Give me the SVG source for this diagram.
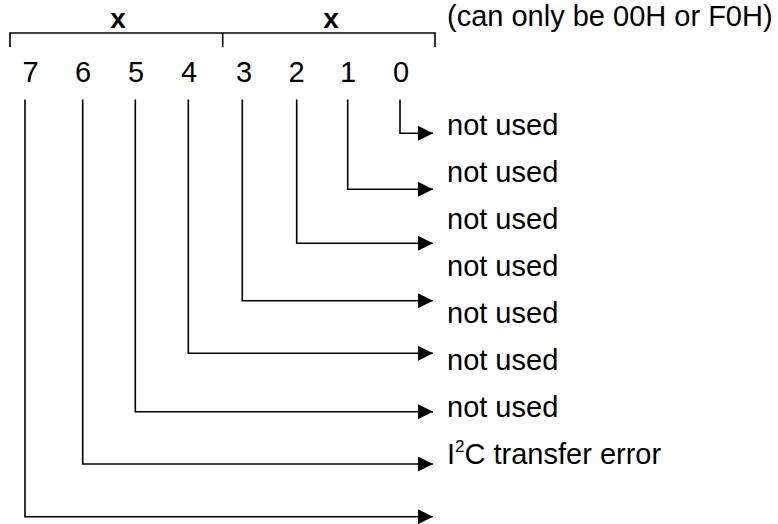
<svg xmlns="http://www.w3.org/2000/svg" width="778" height="524" viewBox="0 0 778 524">
<style>
  .t { font-family: "Liberation Sans", Arial, sans-serif; font-size: 29px; fill: #000; }
  .b { font-family: "Liberation Sans", Arial, sans-serif; font-size: 28px; font-weight: bold; fill: #000; }
  .ln { fill: none; stroke: #000; stroke-width: 1.6; }
  .ar { fill: none; stroke: #000; stroke-width: 1.6; marker-end: url(#arrow); }
</style>
<defs>
  <marker id="arrow" markerUnits="userSpaceOnUse" markerWidth="16" markerHeight="16" refX="15" refY="7.5" orient="auto">
    <path d="M0,0 L15,7.5 L0,15 z" fill="#000"/>
  </marker>
</defs>
<rect width="778" height="524" fill="#fff"/>
<g id="header">
  <path class="ln" d="M10,47 V33 H435 V47 M222.7,33 V47"/>
  <text class="b" x="118" y="28" text-anchor="middle">x</text>
  <text class="b" x="331" y="28" text-anchor="middle">x</text>
  <text class="t" x="447" y="26">(can only be 00H or F0H)</text>
</g>
<g id="bit7"><text class="t" x="30.5" y="82" text-anchor="middle">7</text></g>
<g id="bit6"><text class="t" x="83" y="82" text-anchor="middle">6</text></g>
<g id="bit5"><text class="t" x="136" y="82" text-anchor="middle">5</text></g>
<g id="bit4"><text class="t" x="189" y="82" text-anchor="middle">4</text></g>
<g id="bit3"><text class="t" x="244" y="82" text-anchor="middle">3</text></g>
<g id="bit2"><text class="t" x="296.5" y="82" text-anchor="middle">2</text></g>
<g id="bit1"><text class="t" x="348" y="82" text-anchor="middle">1</text></g>
<g id="bit0"><text class="t" x="401" y="82" text-anchor="middle">0</text></g>
<g id="label1"><text class="t" x="447" y="135">not used</text></g>
<g id="label2"><text class="t" x="447" y="182">not used</text></g>
<g id="label3"><text class="t" x="447" y="229">not used</text></g>
<g id="label4"><text class="t" x="447" y="276">not used</text></g>
<g id="label5"><text class="t" x="447" y="323">not used</text></g>
<g id="label6"><text class="t" x="447" y="370">not used</text></g>
<g id="label7"><text class="t" x="447" y="417">not used</text></g>
<g id="label8"><text class="t" x="447" y="464">I<tspan font-size="17" dy="-12">2</tspan><tspan dy="12">C transfer error</tspan></text></g>
<g id="connectors">
  <path class="ar" d="M400,99.5 V133.3 H433"/>
  <path class="ar" d="M347.7,99.5 V189.3 H433"/>
  <path class="ar" d="M296.7,99.5 V243.3 H433"/>
  <path class="ar" d="M242.3,99.5 V300.7 H433"/>
  <path class="ar" d="M188.3,99.5 V353.3 H433"/>
  <path class="ar" d="M135.3,99.5 V411.7 H433"/>
  <path class="ar" d="M82.7,99.5 V464 H433"/>
  <path class="ar" d="M25,99.5 V516.7 H433"/>
</g>
</svg>
